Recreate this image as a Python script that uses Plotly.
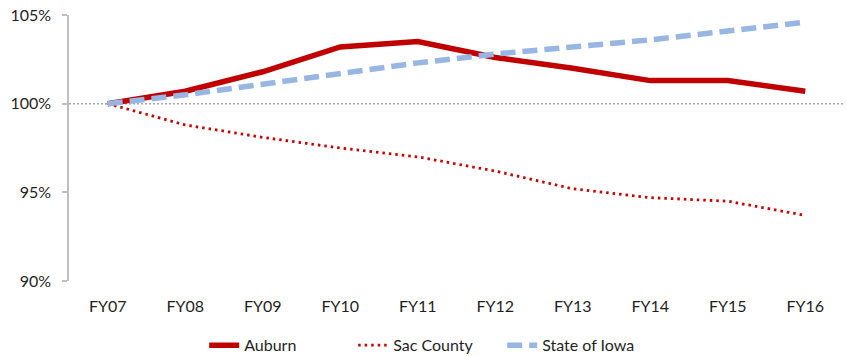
import plotly.graph_objects as go

years = ["FY07", "FY08", "FY09", "FY10", "FY11", "FY12", "FY13", "FY14", "FY15", "FY16"]
auburn = [100.0, 100.7, 101.8, 103.2, 103.5, 102.6, 102.0, 101.3, 101.3, 100.7]
sac_county = [100.0, 98.8, 98.1, 97.5, 97.0, 96.2, 95.2, 94.7, 94.5, 93.7]
state_of_iowa = [100.0, 100.5, 101.1, 101.7, 102.3, 102.8, 103.2, 103.6, 104.1, 104.6]

tick_vals = [90, 95, 100, 105]
tick_text = ["90%", "95%", "100%", "105%"]

font_family = "Lato, 'Open Sans', sans-serif"
text_color = "#1F1F1F"

fig = go.Figure()

fig.add_trace(go.Scatter(
    x=years, y=auburn, name="Auburn", mode="lines",
    line=dict(color="#C00000", width=5.5),
))
fig.add_trace(go.Scatter(
    x=years, y=sac_county, name="Sac County", mode="lines",
    line=dict(color="#C80000", width=2.8, dash="2.5px,4px"),
))
fig.add_trace(go.Scatter(
    x=years, y=state_of_iowa, name="State of Iowa", mode="lines",
    line=dict(color="#98B6E4", width=5.5, dash="15px,7px"),
))

# dotted reference line at 100%
fig.add_shape(
    type="line", xref="paper", yref="y", x0=0, x1=1, y0=100, y1=100,
    line=dict(color="#A6A6A6", width=1.5, dash="2px,2px"), layer="below",
)

fig.update_layout(
    width=847, height=356,
    margin=dict(l=69, r=3, t=15, b=75, autoexpand=False),
    paper_bgcolor="white", plot_bgcolor="white",
    font=dict(family=font_family, size=16, color=text_color),
    showlegend=True,
    legend=dict(
        orientation="h", xref="container", x=0.025 + 183 / 847, xanchor="left",
        yref="container", y=0.03, yanchor="middle",
        font=dict(size=16, color=text_color), entrywidth=104,
    ),
    xaxis=dict(
        range=[-0.5, 9.5], showgrid=False, zeroline=False, showline=False,
        ticks="", tickfont=dict(size=16), ticklabelstandoff=14,
        automargin=False,
    ),
    yaxis=dict(
        range=[90, 105], tickvals=tick_vals, ticktext=tick_text,
        showgrid=False, zeroline=False, showline=True,
        linecolor="#BFBFBF", linewidth=1.5,
        ticks="outside", ticklen=5, tickcolor="#BFBFBF", tickwidth=1.5,
        tickfont=dict(size=16), ticklabelstandoff=8, automargin=False,
    ),
)

fig.write_html("out.html")
